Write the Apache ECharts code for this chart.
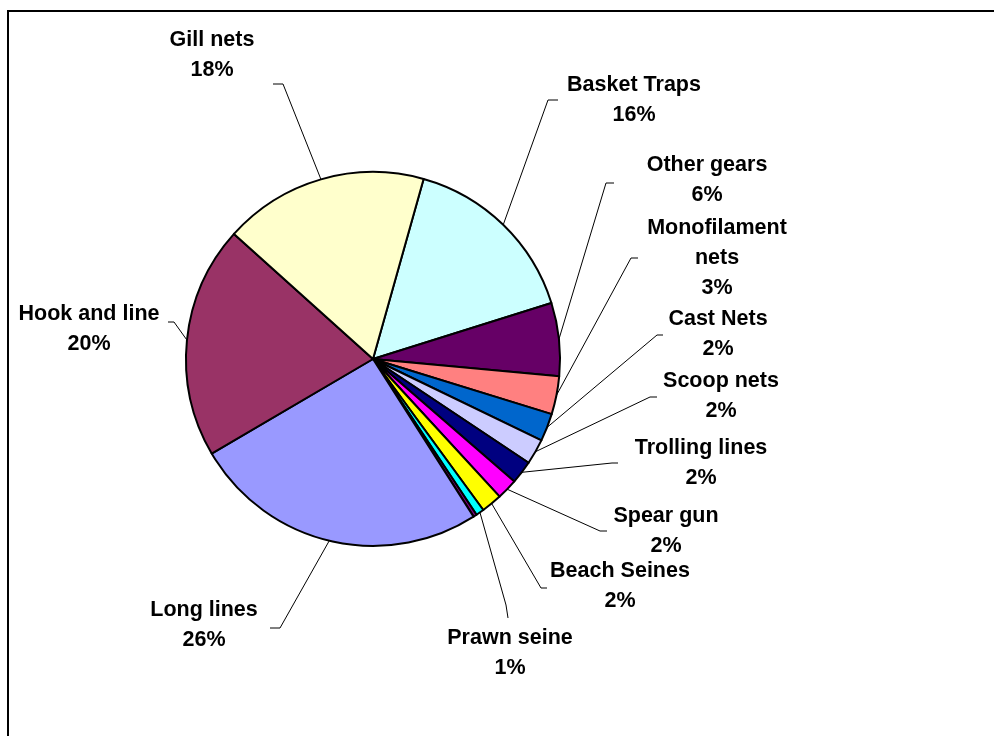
<!DOCTYPE html>
<html>
<head>
<meta charset="utf-8">
<title>Fishing gear share</title>
<script src="https://cdn.jsdelivr.net/npm/echarts@6/dist/echarts.min.js"></script>
<style>
  html, body { margin: 0; padding: 0; background: #ffffff; }
  #chart { width: 994px; height: 736px; }
</style>
</head>
<body>
<div id="chart"></div>
<script>
// Gear types, listed clockwise from the top of the pie
var categories = [
  'Basket Traps', 'Other gears', 'Monofilament\nnets', 'Cast Nets', 'Scoop nets',
  'Trolling lines', 'Spear gun', 'Beach Seines', 'Prawn seine', 'Other',
  'Long lines', 'Hook and line', 'Gill nets'
];
// Share of each gear (percent)
var shares = [15.8, 6.3, 3.3, 2.4, 2.2, 2.0, 1.8, 1.8, 0.7, 0.3, 25.6, 20.1, 17.7];
var colors = [
  '#CCFFFF', '#660066', '#FF8080', '#0066CC', '#CCCCFF',
  '#000080', '#FF00FF', '#FFFF00', '#00FFFF', '#800080',
  '#9999FF', '#993366', '#FFFFCC'
];
// Which slices carry a text label
var labelled = [true, true, true, true, true, true, true, true, true, false, true, true, true];

// Label placement: [centre x, top y] of each text block, and where its leader line meets it
var labelBox = [
  [634, 70], [707, 150], [717, 213], [718, 304], [721, 366],
  [701, 433], [666, 501], [620, 556], [510, 623], null,
  [204, 595], [89, 299], [212, 25]
];
var leaderEnd = [
  [[548, 100], [558, 100]], [[606, 183], [614, 183]], [[631, 258], [638, 258]],
  [[657, 335], [663, 335]], [[650, 397], [657, 397]], [[612, 463], [618, 463]],
  [[600, 531], [607, 531]], [[541, 588], [547, 588]], [[506, 605], [508, 618]], null,
  [[280, 628], [270, 628]], [[174, 322], [168, 322]], [[283, 84], [273, 84]]
];

var pieData = categories.map(function (name, i) {
  var item = { name: name, value: shares[i], itemStyle: { color: colors[i] } };
  if (!labelled[i]) {
    item.label = { show: false };
    item.labelLine = { show: false };
  }
  return item;
});

var chart = echarts.init(document.getElementById('chart'), null, { renderer: 'canvas' });

chart.setOption({
  backgroundColor: '#ffffff',
  animation: false,
  graphic: [{
    type: 'rect',
    shape: { x: 8, y: 11, width: 1000, height: 740 },
    style: { fill: 'none', stroke: '#000000', lineWidth: 2 },
    silent: true
  }],
  series: [{
    type: 'pie',
    center: [373, 359],
    radius: 187,
    startAngle: 74.3,
    clockwise: true,
    avoidLabelOverlap: false,
    percentPrecision: 0,
    silent: true,
    data: pieData,
    itemStyle: { borderColor: '#000000', borderWidth: 2 },
    label: {
      show: true,
      position: 'outside',
      formatter: '{b}\n{d}%',
      color: '#000000',
      fontFamily: 'Liberation Sans, Arial, sans-serif',
      fontWeight: 'bold',
      fontSize: 21.5,
      lineHeight: 30,
      align: 'center'
    },
    labelLine: {
      show: true,
      lineStyle: { color: '#000000', width: 1 }
    },
    labelLayout: function (params) {
      var i = params.dataIndex;
      if (!labelBox[i]) { return {}; }
      var edge = params.labelLinePoints ? params.labelLinePoints[0] : null;
      var out = {
        x: labelBox[i][0],
        y: labelBox[i][1],
        align: 'center',
        verticalAlign: 'top'
      };
      if (edge) {
        out.labelLinePoints = [edge, leaderEnd[i][0], leaderEnd[i][1]];
      }
      return out;
    }
  }]
});
</script>
</body>
</html>
